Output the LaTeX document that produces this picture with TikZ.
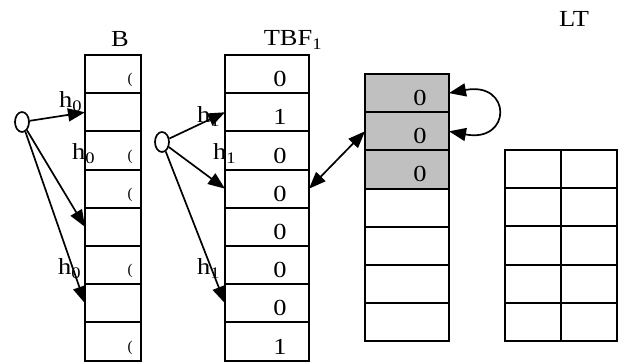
\documentclass[tikz,border=0pt]{standalone}
\usepackage{fontspec}
\setmainfont{Liberation Serif}
\usepackage{graphicx}
\usetikzlibrary{arrows.meta,shapes.geometric}
\definecolor{cellgray}{RGB}{192,192,192}
% slightly widened lettering
\newcommand\sx[1]{\scalebox{1.15}[1]{#1}}
\begin{document}
\begin{tikzpicture}[x=1pt,y=-1pt,
  cell/.style={draw,line width=1.9pt,minimum height=38.2pt,inner sep=0pt,outer sep=0pt},
  txt/.style={inner sep=0pt,font=\fontsize{23}{26}\selectfont},
  tickmark/.style={inner sep=0pt,font=\fontsize{15}{15}\selectfont},
  hub/.style={ellipse,draw,line width=1.7pt,minimum width=14pt,minimum height=20pt,inner sep=0pt},
  arr/.style={line width=1.7pt,-{Triangle[length=17pt,width=13pt]}},
  dbl/.style={line width=1.7pt,{Triangle[length=17pt,width=13pt]}-{Triangle[length=17pt,width=13pt]}}]
\useasboundingbox (0,0) rectangle (626,363);

% column titles
\node[txt,anchor=base] (tB) at (120,46.7) {\sx{B}};
\node[txt,anchor=base] (tT) at (293,46) {\sx{TBF\textsubscript{1}}};
\node[txt,anchor=base] (tL) at (574,26.7) {\sx{LT}};

% bit array B
\foreach \i in {1,...,8}
  \node[cell,minimum width=56pt] (b\i) at (113,{55+38.2*\i-19.1}) {};
\foreach \i in {1,3,4,6,8}
  \node[tickmark] (bm\i) at (130,{55+38.2*\i-13}) {(};

% bit array TBF_1
\foreach \v [count=\i] in {0,1,0,0,0,0,0,1} {
  \node[cell,minimum width=84pt] (t\i) at (267,{55+38.2*\i-19.1}) {};
  \node[txt,anchor=base] (tv\i) at (280,{55+38.2*\i-6.5}) {\sx{\v}};
}

% counter column
\foreach \i in {1,...,7}
  \node[cell,minimum width=84pt] (g\i) at (407,{74+38.2*\i-19.1}) {};
\foreach \i in {1,2,3} {
  \node[cell,minimum width=84pt,fill=cellgray] (gf\i) at (g\i) {};
  \node[txt,anchor=base] (gv\i) at (420,{74+38.2*\i-7}) {\sx{0}};
}

% table LT
\foreach \i in {1,...,5} {
  \node[cell,minimum width=56pt] (la\i) at (533,{150+38.2*\i-19.1}) {};
  \node[cell,minimum width=56pt] (lb\i) at (589,{150+38.2*\i-19.1}) {};
}

% hash labels
\node[txt,anchor=base west] (h01) at (59,108) {\sx{h\textsubscript{0}}};
\node[txt,anchor=base west] (h02) at (72,160) {\sx{h\textsubscript{0}}};
\node[txt,anchor=base west] (h03) at (58,275) {\sx{h\textsubscript{0}}};
\node[txt,anchor=base west] (h11) at (197,123) {\sx{h\textsubscript{1}}};
\node[txt,anchor=base west] (h12) at (213,160) {\sx{h\textsubscript{1}}};
\node[txt,anchor=base west] (h13) at (197,275) {\sx{h\textsubscript{1}}};

% element hubs and hash arrows
\node[hub] (c0) at (22,122) {};
\node[hub] (c1) at (162,142) {};
\draw[arr] (c0) -- (b2.west);
\draw[arr] (c0) -- (b5.west);
\draw[arr] (c0) -- (b7.west);
\draw[arr] (c1) -- (t2.west);
\draw[arr] (c1) -- (t4.west);
\draw[arr] (c1) -- (t7.west);

% links
\draw[dbl] (t4.east) -- (g2.west);
\draw[dbl] (g1.east) .. controls +(63,-12) and +(63,12) .. (g2.east);
\end{tikzpicture}
\end{document}
